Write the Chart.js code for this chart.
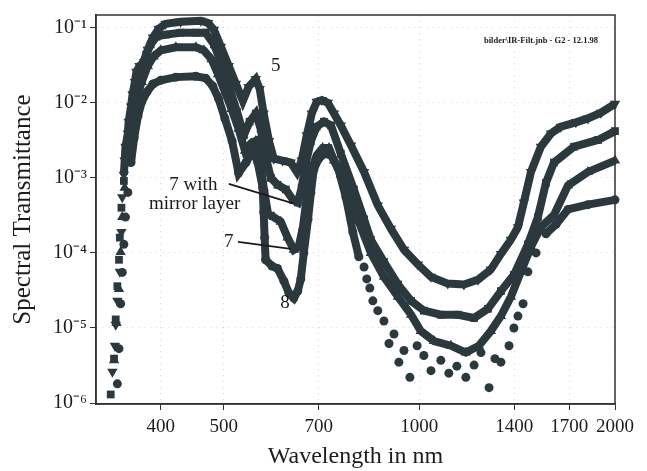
<!DOCTYPE html>
<html>
<head>
<meta charset="utf-8">
<script src="https://cdn.jsdelivr.net/npm/chart.js@4.4.0/dist/chart.umd.min.js"></script>
<style>
  html, body { margin: 0; padding: 0; background: #fff; }
  #wrap { width: 647px; height: 471px; position: relative; }
</style>
</head>
<body>
<div id="wrap"><canvas id="myChart"></canvas></div>
<script>
var INK = '#2b383e';
var SERIF = "'Liberation Serif', 'Times New Roman', serif";

// filter 5 (down triangles)
var wl5 = [337,340,341,343,346,348,349,351,352,353,356,357,360,362,365,367,371,377,382,389,397,407,429,461,473,483,495,509,522,535,546,560,568,576,587,597,616,634,648,659,671,683,695,708,723,739,757,785,822,863,904,947,995,1042,1106,1171,1231,1288,1335,1383,1418,1448,1485,1538,1594,1651,1741,1817,1903,2000];
var t5 = [2.6e-6,5.8e-6,1.1e-5,2.3e-5,5.6e-5,1.9e-4,5.5e-4,1.1e-3,1.7e-3,2.6e-3,3.9e-3,5.6e-3,8.9e-3,0.013,0.019,0.026,0.031,0.035,0.051,0.074,0.097,0.113,0.120,0.124,0.116,0.094,0.056,0.031,0.018,0.0106,0.0163,0.0207,0.0153,0.0072,0.0031,0.0018,0.0017,0.0016,0.0012,0.0017,0.0037,0.0072,0.0103,0.0109,0.0100,0.0072,0.0050,0.0027,0.0012,4.3e-4,2.1e-4,1.1e-4,7.0e-5,4.8e-5,3.9e-5,3.8e-5,4.4e-5,6.0e-5,9.7e-5,1.5e-4,2.2e-4,4.7e-4,1.2e-3,2.6e-3,3.9e-3,4.8e-3,5.5e-3,6.2e-3,7.4e-3,9.7e-3];

// filter 7 with mirror layer (squares)
var wl7m = [335,339,341,343,345,346,348,351,353,356,358,361,365,369,374,380,386,394,407,429,453,469,483,495,509,524,537,548,560,570,581,591,605,623,639,650,659,669,681,695,713,731,757,793,822,842,882,927,971,1016,1079,1147,1214,1275,1335,1398,1469,1522,1566,1611,1730,1883,2000];
var t7m = [1.3e-6,3.9e-6,1.3e-5,3.6e-5,8.1e-5,1.6e-4,4.0e-4,9.1e-4,1.6e-3,2.6e-3,4.5e-3,7.2e-3,0.012,0.019,0.031,0.044,0.060,0.076,0.081,0.086,0.086,0.086,0.060,0.035,0.017,7.6e-3,3.7e-3,5.6e-3,7.2e-3,4.5e-3,1.8e-3,1.0e-3,8.1e-4,7.0e-4,5.1e-4,4.7e-4,7.4e-4,1.6e-3,3.1e-3,4.8e-3,5.6e-3,5.0e-3,2.1e-3,7.0e-4,2.8e-4,1.5e-4,7.6e-5,3.8e-5,2.3e-5,1.7e-5,1.5e-5,1.5e-5,1.36e-5,1.8e-5,3.1e-5,5.1e-5,1.3e-4,3.0e-4,8.6e-4,1.6e-3,2.6e-3,3.2e-3,4.2e-3];

// filter 7 (up triangles)
var wl7 = [339,342,345,347,349,352,355,358,362,367,374,382,390,400,422,453,466,479,490,502,514,527,539,551,560,568,576,585,597,612,627,641,652,662,671,681,695,710,726,739,757,776,804,842,882,927,971,1005,1053,1118,1179,1235,1288,1335,1383,1433,1485,1538,1611,1693,1817,2000];
var t7 = [3.7e-6,1.16e-5,3.3e-5,1.03e-4,3.0e-4,7.4e-4,1.6e-3,3.4e-3,6.2e-3,0.0113,0.019,0.031,0.0415,0.050,0.055,0.055,0.050,0.038,0.024,0.014,8.3e-3,4.5e-3,2.3e-3,2.9e-3,3.1e-3,2.0e-3,7.4e-4,3.3e-4,3.0e-4,2.6e-4,1.6e-4,1.1e-4,1.2e-4,2.2e-4,5.5e-4,1.2e-3,2.0e-3,2.5e-3,2.5e-3,1.7e-3,1.1e-3,6.4e-4,2.8e-4,1.0e-4,4.8e-5,2.6e-5,1.5e-5,9.1e-6,6.7e-6,5.8e-6,4.7e-6,5.8e-6,9.1e-6,1.44e-5,2.6e-5,5.6e-5,1.2e-4,2.2e-4,3.2e-4,7.9e-4,1.2e-3,1.7e-3];

// filter 8 (circles)
var wl8 = [343,345,347,349,351,353,356,360,364,369,374,381,389,400,422,453,469,481,491,502,515,527,541,554,564,574,576,578,580,593,605,619,630,641,650,657,664,674,681,688,700,715,731,749,771,790,807,822,830,839,848,863,882,898,914,930,947,967,992,1016,1042,1079,1110,1142,1179,1214,1244,1280,1307,1335,1374,1398,1418,1444,1469,1512,1566,1623,1693,1817,2000];
var t8 = [1.8e-6,5.3e-6,2.1e-5,5.5e-5,1.3e-4,3.0e-4,6.4e-4,1.6e-3,3.4e-3,6.7e-3,0.0103,0.014,0.0178,0.020,0.022,0.0226,0.0213,0.0167,0.0113,6.2e-3,3.1e-3,1.16e-3,1.6e-3,2.3e-3,1.6e-3,7.4e-4,3.5e-4,1.6e-4,8.1e-5,6.7e-5,6.2e-5,4.2e-5,2.9e-5,2.5e-5,3.1e-5,4.5e-5,1.0e-4,2.8e-4,6.4e-4,1.3e-3,1.8e-3,2.1e-3,2.0e-3,1.4e-3,5.5e-4,1.9e-4,8.9e-5,6.5e-5,4.5e-5,3.4e-5,2.3e-5,1.7e-5,1.24e-5,6.2e-6,8.3e-6,3.5e-6,5.0e-6,2.2e-6,5.8e-6,4.3e-6,2.7e-6,3.7e-6,2.5e-6,3.1e-6,2.2e-6,3.2e-6,4.7e-6,1.6e-6,3.9e-6,3.5e-6,5.8e-6,1.0e-5,1.44e-5,2.1e-5,5.6e-5,1.0e-4,1.8e-4,2.4e-4,3.8e-4,4.4e-4,5.1e-4];

var xTicks = [400, 500, 700, 1000, 1400, 1700, 2000];
var yTicks = [1e-6, 1e-5, 1e-4, 1e-3, 1e-2, 1e-1];
var supers = ['\u2070', '\u00b9', '\u00b2', '\u00b3', '\u2074', '\u2075', '\u2076'];

// curve labels (wavelength / transmittance where the text sits)
var noteText = ['5', '7 with', 'mirror layer', '7', '8'];
var noteWl = [601, 449, 451, 509, 621];
var noteT = [0.031, 8.1e-4, 4.55e-4, 1.4e-4, 2.13e-5];
// pointer lines from label to curve
var arrowFromWl = [509, 526];
var arrowFromT = [8.3e-4, 1.4e-4];
var arrowToWl = [641, 634];
var arrowToT = [4.55e-4, 1.13e-4];

function pairs(wl, t) {
  return wl.map(function(w, i) { return {x: w, y: t[i]}; });
}

// the steep low part of the rising edge is only loose markers
function looseEdge(ctx) {
  return ctx.p0.parsed.x < 360 && ctx.p0.parsed.y < 1e-3;
}
// filter 8 scatters between 800 and 1560 nm
function looseDip8(ctx) {
  return ctx.p0.parsed.x >= 807 && ctx.p1.parsed.x <= 1566;
}

function series(label, wl, t, style, rot, radius, extra) {
  return {
    label: label,
    data: pairs(wl, t),
    borderColor: INK,
    backgroundColor: INK,
    borderWidth: 8,
    pointStyle: style,
    pointRotation: rot,
    pointRadius: radius,
    pointBorderWidth: 0,
    pointBackgroundColor: INK,
    tension: 0,
    clip: 6,
    segment: {
      borderColor: function(ctx) {
        return (looseEdge(ctx) || (extra && extra(ctx))) ? 'rgba(0,0,0,0)' : undefined;
      }
    }
  };
}

var notesPlugin = {
  id: 'notes',
  afterDatasetsDraw: function(chart) {
    var ctx = chart.ctx, x = chart.scales.x, y = chart.scales.y, ca = chart.chartArea;
    ctx.save();
    ctx.fillStyle = '#1c1c1c';
    ctx.strokeStyle = '#1c1c1c';
    ctx.lineWidth = 1.8;
    for (var i = 0; i < arrowFromWl.length; i++) {
      ctx.beginPath();
      ctx.moveTo(x.getPixelForValue(arrowFromWl[i]), y.getPixelForValue(arrowFromT[i]));
      ctx.lineTo(x.getPixelForValue(arrowToWl[i]), y.getPixelForValue(arrowToT[i]));
      ctx.stroke();
    }
    ctx.font = '19px ' + SERIF;
    ctx.textAlign = 'center';
    ctx.textBaseline = 'middle';
    for (var j = 0; j < noteText.length; j++) {
      ctx.fillText(noteText[j], x.getPixelForValue(noteWl[j]), y.getPixelForValue(noteT[j]));
    }
    ctx.font = 'bold 8.5px ' + SERIF;
    ctx.textAlign = 'right';
    ctx.fillText('bilder\\IR-Filt.jnb - G2 - 12.1.98', ca.right - 17, ca.top + 26);
    ctx.restore();
  }
};

var framePlugin = {
  id: 'frame',
  afterDraw: function(chart) {
    var ctx = chart.ctx, ca = chart.chartArea;
    ctx.save();
    ctx.strokeStyle = '#333';
    ctx.lineWidth = 1.5;
    ctx.strokeRect(ca.left, ca.top, ca.right - ca.left, ca.bottom - ca.top);
    ctx.restore();
  }
};

const data = {
  datasets: [
    series('5', wl5, t5, 'triangle', 180, 6),
    series('7 with mirror layer', wl7m, t7m, 'rect', 0, 5.5),
    series('7', wl7, t7, 'triangle', 0, 6),
    series('8', wl8, t8, 'circle', 0, 4.5, looseDip8)
  ]
};

const config = {
  type: 'line',
  data: data,
  options: {
    responsive: true,
    maintainAspectRatio: false,
    animation: false,
    layout: { padding: { top: 10, right: 32, bottom: 0, left: 0 } },
    plugins: { legend: { display: false }, tooltip: { enabled: false } },
    scales: {
      x: {
        type: 'logarithmic',
        min: 318,
        max: 2000,
        afterBuildTicks: function(s) { s.ticks = xTicks.map(function(v) { return {value: v}; }); },
        afterFit: function(s) { s.height = 67; },
        ticks: {
          callback: function(v) { return String(v); },
          font: { family: SERIF, size: 19 },
          color: '#1c1c1c',
          padding: 6,
          maxRotation: 0,
          autoSkip: false
        },
        grid: { color: 'rgba(0,0,0,0.15)', tickColor: '#333', tickLength: 6 },
        border: { color: '#333', width: 1.5, dash: [1, 5] },
        title: {
          display: true,
          text: 'Wavelength in nm',
          font: { family: SERIF, size: 24 },
          color: '#1c1c1c',
          padding: { top: 0, bottom: 0 }
        }
      },
      y: {
        type: 'logarithmic',
        min: 0.97e-6,
        max: 0.148,
        afterBuildTicks: function(s) { s.ticks = yTicks.map(function(v) { return {value: v}; }); },
        afterFit: function(s) { s.width = 96; },
        ticks: {
          callback: function(v) {
            var e = Math.round(-Math.log10(v));
            return '10\u207b' + supers[e];
          },
          font: { family: SERIF, size: 20 },
          color: '#1c1c1c',
          padding: 3,
          autoSkip: false
        },
        grid: { color: 'rgba(0,0,0,0.15)', tickColor: '#333', tickLength: 6 },
        border: { color: '#333', width: 1.5, dash: [1, 5] },
        title: {
          display: true,
          text: 'Spectral Transmittance',
          font: { family: SERIF, size: 25 },
          color: '#1c1c1c',
          padding: { top: 8, bottom: 0 }
        }
      }
    }
  },
  plugins: [notesPlugin, framePlugin]
};

new Chart(document.getElementById('myChart'), config);
</script>
</body>
</html>
